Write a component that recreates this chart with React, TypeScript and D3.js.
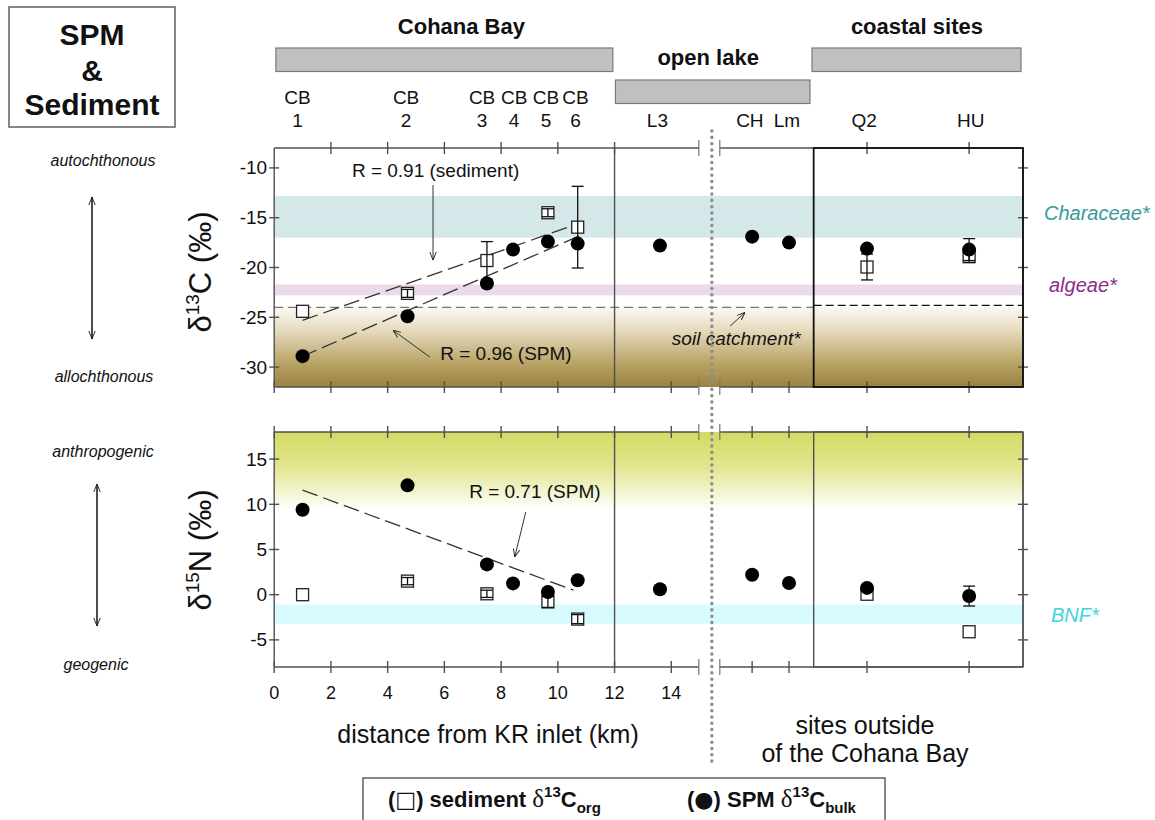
import React, { useRef, useEffect } from "react";
import * as d3 from "d3";

// sampling sites (km from the KR inlet; sites past the axis break are placed by hand)
const siteKm = [1.0, 4.7, 7.5, 8.42, 9.65, 10.7, 13.6, 16.85, 18.15, 20.9, 24.5];
const siteTop = ["CB", "CB", "CB", "CB", "CB", "CB", "", "", "", "", ""];
const siteBottom = ["1", "2", "3", "4", "5", "6", "L3", "CH", "Lm", "Q2", "HU"];
const siteLabelKm = [0.82, 4.65, 7.33, 8.46, 9.58, 10.62, 13.51, 16.77, 18.08, 20.8, 24.56];

// d13C (‰)
const spmC = [-28.9, -24.9, -21.6, -18.2, -17.4, -17.6, -17.8, -16.9, -17.5, -18.1, -18.2];
const spmCErr = [0, 0, 0, 0, 0, 0, 0, 0, 0, 0, 1.1];
const sedC = [-24.4, -22.6, -19.3, null, -14.5, -15.95, null, null, null, -19.95, -18.9];
const sedCErr = [0, 0.4, 1.9, 0, 0.4, 4.1, 0, 0, 0, 1.3, 0.6];

// d15N (‰)
const spmN = [9.4, 12.1, 3.35, 1.25, 0.3, 1.6, 0.6, 2.2, 1.3, 0.75, -0.15];
const spmNErr = [0, 0, 0, 0, 0, 0, 0, 0, 0, 0, 1.1];
const sedN = [0, 1.5, 0.1, null, -0.8, -2.7, null, null, null, 0.05, -4.1];
const sedNErr = [0, 0.4, 0.4, 0, 0.6, 0.5, 0, 0, 0, 0, 0];

// regression lines, [km, value]
const fitSedC = [[1.0, -25.3], [10.72, -15.6]];
const fitSpmC = [[0.97, -28.95], [10.78, -16.8]];
const fitSpmN = [[1.0, 11.57], [10.55, 0.5]];

const kmTicks = [0, 2, 4, 6, 8, 10, 12, 14];
const cTicks = [-30, -25, -20, -15, -10];
const nTicks = [-5, 0, 5, 10, 15];

// source end-members
const characeae = [-17, -12.8];
const algae = [-22.8, -21.7];
const soil = -24;
const bnf = [-3.2, -1.1];
const anthro = 9.3;

const regions = ["Cohana Bay", "open lake", "coastal sites"];
const regionFrom = [0.06, 12.03, 18.96];
const regionTo = [11.94, 18.89, 26.33];
const regionLabelKm = [6.6, 15.3, 22.66];

const FONT = "'Liberation Sans', Arial, Helvetica, sans-serif";

const App = () => {
  const svgRef = useRef<SVGSVGElement>(null);

  useEffect(() => {
    const svg = d3.select(svgRef.current);
    svg.selectAll("*").remove();
    svg.attr("font-family", FONT);

    const xMax = 26.4;
    const bayEnd = 12;
    const lakeEnd = 19.02;
    const brkA = 14.97;
    const brkB = 15.71;
    const dotKm = 15.43;

    const x = d3.scaleLinear().domain([0, xMax]).range([274.2, 1023]);
    const yC = d3.scaleLinear().domain([-32, -8]).range([387, 148]);
    const yN = d3.scaleLinear().domain([-8, 18]).range([667, 432]);

    const defs = svg.append("defs");
    const soilG = defs
      .append("linearGradient")
      .attr("id", "soilG")
      .attr("gradientUnits", "userSpaceOnUse")
      .attr("x1", 0).attr("x2", 0)
      .attr("y1", yC(soil)).attr("y2", yC(-32));
    [[0, "#fbf9f2"], [0.3, "#e4d9bb"], [0.7, "#b9a366"], [1, "#9a8340"]].forEach(([o, c]) =>
      soilG.append("stop").attr("offset", o).attr("stop-color", c)
    );
    const nG = defs
      .append("linearGradient")
      .attr("id", "nG")
      .attr("gradientUnits", "userSpaceOnUse")
      .attr("x1", 0).attr("x2", 0)
      .attr("y1", yN(18)).attr("y2", yN(anthro));
    [[0, "#d3da62"], [0.45, "#e2e690"], [1, "#ffffff"]].forEach(([o, c]) =>
      nG.append("stop").attr("offset", o).attr("stop-color", c)
    );
    defs
      .append("marker")
      .attr("id", "ah")
      .attr("viewBox", "0 0 10 10")
      .attr("refX", 10).attr("refY", 5)
      .attr("markerWidth", 8).attr("markerHeight", 8)
      .attr("markerUnits", "userSpaceOnUse")
      .attr("orient", "auto-start-reverse")
      .append("path")
      .attr("d", "M0,1 L10,5 L0,9")
      .attr("fill", "none")
      .attr("stroke", "#222")
      .attr("stroke-width", 1.2);

    const line = (g, x1, y1, x2, y2, stroke = "#505050", w = 1.4) =>
      g.append("line")
        .attr("x1", x1).attr("y1", y1).attr("x2", x2).attr("y2", y2)
        .attr("stroke", stroke).attr("stroke-width", w);

    const band = (g, y, lo, hi, fill) =>
      g.append("rect")
        .attr("x", x(0)).attr("width", x(xMax) - x(0))
        .attr("y", y(hi)).attr("height", y(lo) - y(hi))
        .attr("fill", fill);

    // frame with axis break and ticks
    const frame = (g, y, yTicks, topKm, botKm, coastStroke, coastW) => {
      const [yb, yt] = y.range();
      const xl = x(0), xr = x(xMax);
      line(g, xl, yt, x(brkA), yt);
      line(g, x(brkB), yt, xr, yt);
      line(g, xl, yb, x(brkA), yb);
      line(g, x(brkB), yb, xr, yb);
      line(g, xl, yt, xl, yb);
      line(g, xr, yt, xr, yb);
      line(g, x(bayEnd), yt, x(bayEnd), yb);
      [brkA, brkB].forEach((k) => {
        line(g, x(k), yt - 8, x(k), yt + 8, "#777", 1.2);
        line(g, x(k), yb - 8, x(k), yb + 8, "#777", 1.2);
      });
      topKm.forEach((k) => line(g, x(k), yt - 6, x(k), yt + 6));
      botKm.forEach((k) => line(g, x(k), yb - 6, x(k), yb + 6));
      yTicks.forEach((v) => {
        line(g, xl - 5, y(v), xl + 5, y(v));
        line(g, xr - 5, y(v), xr + 5, y(v));
        g.append("text")
          .attr("x", xl - 7).attr("y", y(v) + 6.5)
          .attr("text-anchor", "end")
          .attr("font-size", 19)
          .attr("fill", "#111")
          .text(v);
      });
      g.append("rect")
        .attr("x", x(lakeEnd)).attr("y", yt)
        .attr("width", xr - x(lakeEnd)).attr("height", yb - yt)
        .attr("fill", "none")
        .attr("stroke", coastStroke).attr("stroke-width", coastW);
    };

    const errBars = (g, y, vals, errs) => {
      vals.forEach((v, i) => {
        if (v === null || !errs[i]) return;
        const cx = x(siteKm[i]);
        const a = y(v - errs[i]), b = y(v + errs[i]);
        line(g, cx, a, cx, b, "#111", 1.3);
        line(g, cx - 6, a, cx + 6, a, "#111", 1.3);
        line(g, cx - 6, b, cx + 6, b, "#111", 1.3);
      });
    };

    const points = (g, y, sed, sedErr, spm, spmErr) => {
      sed.forEach((v, i) => {
        if (v === null) return;
        g.append("rect")
          .attr("x", x(siteKm[i]) - 6).attr("y", y(v) - 6)
          .attr("width", 12).attr("height", 12)
          .attr("fill", "#fff").attr("stroke", "#222").attr("stroke-width", 1.3);
      });
      errBars(g, y, sed, sedErr);
      spm.forEach((v, i) => {
        g.append("circle")
          .attr("cx", x(siteKm[i])).attr("cy", y(v)).attr("r", 7)
          .attr("fill", "#000");
      });
      errBars(g, y, spm, spmErr);
    };

    const fit = (g, y, pts) =>
      g.append("line")
        .attr("x1", x(pts[0][0])).attr("y1", y(pts[0][1]))
        .attr("x2", x(pts[1][0])).attr("y2", y(pts[1][1]))
        .attr("stroke", "#333").attr("stroke-width", 1.3)
        .attr("stroke-dasharray", "16,6");

    const arrow = (g, x1, y1, x2, y2) =>
      g.append("line")
        .attr("x1", x1).attr("y1", y1).attr("x2", x2).attr("y2", y2)
        .attr("stroke", "#333").attr("stroke-width", 1)
        .attr("marker-end", "url(#ah)");

    const label = (g, px, py, txt, size = 19, anchor = "middle", style = "normal", fill = "#111") =>
      g.append("text")
        .attr("x", px).attr("y", py)
        .attr("text-anchor", anchor)
        .attr("font-size", size)
        .attr("font-style", style)
        .attr("fill", fill)
        .text(txt);

    // ---- upper panel: d13C
    const gc = svg.append("g");
    band(gc, yC, characeae[0], characeae[1], "#d5e8e9");
    band(gc, yC, algae[0], algae[1], "#ecdaeb");
    gc.append("rect")
      .attr("x", x(0)).attr("width", x(xMax) - x(0))
      .attr("y", yC(soil)).attr("height", yC(-32) - yC(soil))
      .attr("fill", "url(#soilG)");
    line(gc, x(0), yC(soil), x(lakeEnd), yC(soil), "#777", 1.2).attr("stroke-dasharray", "9,5");
    line(gc, x(lakeEnd), yC(-23.8), x(xMax), yC(-23.8), "#111", 1.4).attr("stroke-dasharray", "8,4");
    frame(gc, yC, cTicks,
      [2, 4, 6, 8, 10, 12, siteKm[9], siteKm[10]],
      [...kmTicks, siteKm[7], siteKm[8], siteKm[9], siteKm[10]],
      "#111", 1.8);
    fit(gc, yC, fitSedC);
    fit(gc, yC, fitSpmC);
    points(gc, yC, sedC, sedCErr, spmC, spmCErr);
    label(gc, x(5.69), yC(-10.93), "R = 0.91 (sediment)");
    arrow(gc, x(5.6), yC(-11.72), x(5.6), yC(-19.25));
    label(gc, x(8.17), yC(-29.3), "R = 0.96 (SPM)");
    arrow(gc, x(5.49), yC(-29.0), x(4.19), yC(-26.3));
    label(gc, x(14.02), yC(-27.8), "soil catchment*", 19, "start", "italic");
    arrow(gc, x(16.07), yC(-25.9), x(16.6), yC(-24.5));
    label(gc, 1044, 220, "Characeae*", 20, "start", "italic", "#3a9a9a");
    label(gc, 1049, 292, "algeae*", 20, "start", "italic", "#8b2b8b");

    // ---- lower panel: d15N
    const gn = svg.append("g");
    gn.append("rect")
      .attr("x", x(0)).attr("width", x(xMax) - x(0))
      .attr("y", yN(18)).attr("height", yN(anthro) - yN(18))
      .attr("fill", "url(#nG)");
    band(gn, yN, bnf[0], bnf[1], "#d6fafd");
    const allKm = [...kmTicks, siteKm[7], siteKm[8], siteKm[9], siteKm[10]];
    frame(gn, yN, nTicks, allKm, allKm, "#505050", 1.4);
    fit(gn, yN, fitSpmN);
    points(gn, yN, sedN, sedNErr, spmN, spmNErr);
    label(gn, x(9.19), yN(10.7), "R = 0.71 (SPM)");
    arrow(gn, x(8.87), yN(9.15), x(8.48), yN(4.17));
    label(gn, 1051, 622, "BNF*", 20, "start", "italic", "#3fd4e0");

    kmTicks.forEach((k) => label(svg, x(k), 699, k, 18));

    // dotted separator
    svg.append("line")
      .attr("x1", x(dotKm)).attr("x2", x(dotKm))
      .attr("y1", 131).attr("y2", 763)
      .attr("stroke", "#8c8c8c").attr("stroke-width", 3.4)
      .attr("stroke-linecap", "round")
      .attr("stroke-dasharray", "0.1,6.2");

    // ---- header
    regions.forEach((r, i) => {
      const row = i === 1 ? 1 : 0;
      svg.append("rect")
        .attr("x", x(regionFrom[i])).attr("width", x(regionTo[i]) - x(regionFrom[i]))
        .attr("y", row ? 80 : 48).attr("height", 23.5)
        .attr("fill", "#c0c0c0").attr("stroke", "#7a7a7a").attr("stroke-width", 1.2);
      label(svg, x(regionLabelKm[i]), row ? 65 : 34, r, 22).attr("font-weight", "bold");
    });
    siteBottom.forEach((s, i) => {
      if (siteTop[i]) label(svg, x(siteLabelKm[i]), 104, siteTop[i], 19);
      label(svg, x(siteLabelKm[i]), 127, s, 19);
    });

    // ---- title box
    svg.append("rect")
      .attr("x", 9).attr("y", 7).attr("width", 166).attr("height", 120)
      .attr("fill", "#fff").attr("stroke", "#555").attr("stroke-width", 1.4);
    ["SPM", "&", "Sediment"].forEach((t, i) =>
      label(svg, 92, [45, 81, 115][i], t, 30).attr("font-weight", "bold")
    );

    // ---- left side descriptors
    label(svg, 103, 166, "autochthonous", 16, "middle", "italic");
    label(svg, 104, 382, "allochthonous", 16, "middle", "italic");
    label(svg, 103, 457, "anthropogenic", 16, "middle", "italic");
    label(svg, 96, 670, "geogenic", 16, "middle", "italic");
    [[92, 197, 339], [97, 484, 626]].forEach(([ax, a, b]) =>
      svg.append("line")
        .attr("x1", ax).attr("x2", ax).attr("y1", a).attr("y2", b)
        .attr("stroke", "#111").attr("stroke-width", 1.5)
        .attr("marker-start", "url(#ah)").attr("marker-end", "url(#ah)")
    );

    // ---- y axis titles
    const yTitle = (cy, iso, el) => {
      const t = svg.append("text")
        .attr("transform", `translate(211,${cy}) rotate(-90)`)
        .attr("text-anchor", "middle")
        .attr("font-size", 31)
        .attr("fill", "#111");
      t.append("tspan").text("δ");
      t.append("tspan").attr("font-size", 19).attr("dy", -12).text(iso);
      t.append("tspan").attr("dy", 12).text(`${el} (‰)`);
    };
    yTitle(272, "13", "C");
    yTitle(550, "15", "N");

    // ---- x axis titles
    label(svg, 488, 743, "distance from KR inlet (km)", 25);
    label(svg, 865, 734, "sites outside", 25);
    label(svg, 865, 762, "of the Cohana Bay", 25);

    // ---- legend
    svg.append("rect")
      .attr("x", 363).attr("y", 778).attr("width", 522).attr("height", 60)
      .attr("fill", "#fff").attr("stroke", "#555").attr("stroke-width", 1.4);
    const legItem = (lx, sym, symSize, name, sub) => {
      const t = svg.append("text")
        .attr("x", lx).attr("y", 807)
        .attr("font-size", 22).attr("font-weight", "bold").attr("fill", "#111");
      t.append("tspan").text("(");
      t.append("tspan").attr("font-weight", "normal").attr("font-family", "'DejaVu Sans', sans-serif").attr("font-size", symSize).text(sym);
      t.append("tspan").text(`) ${name} `);
      t.append("tspan").attr("font-family", "'Liberation Serif', serif").attr("font-weight", "normal").attr("font-size", 25).text("δ");
      t.append("tspan").attr("font-size", 15).attr("dy", -10).text("13");
      t.append("tspan").attr("dy", 10).text("C");
      t.append("tspan").attr("font-size", 15).attr("dy", 6).text(sub);
    };
    legItem(388, "□", 22, "sediment", "org");
    legItem(687, "●", 22, "SPM", "bulk");
  }, []);

  return (
    <svg
      ref={svgRef}
      width={1155}
      height={820}
      style={{ position: "absolute", left: 0, top: 0, background: "#fff" }}
    />
  );
};

export default App;
